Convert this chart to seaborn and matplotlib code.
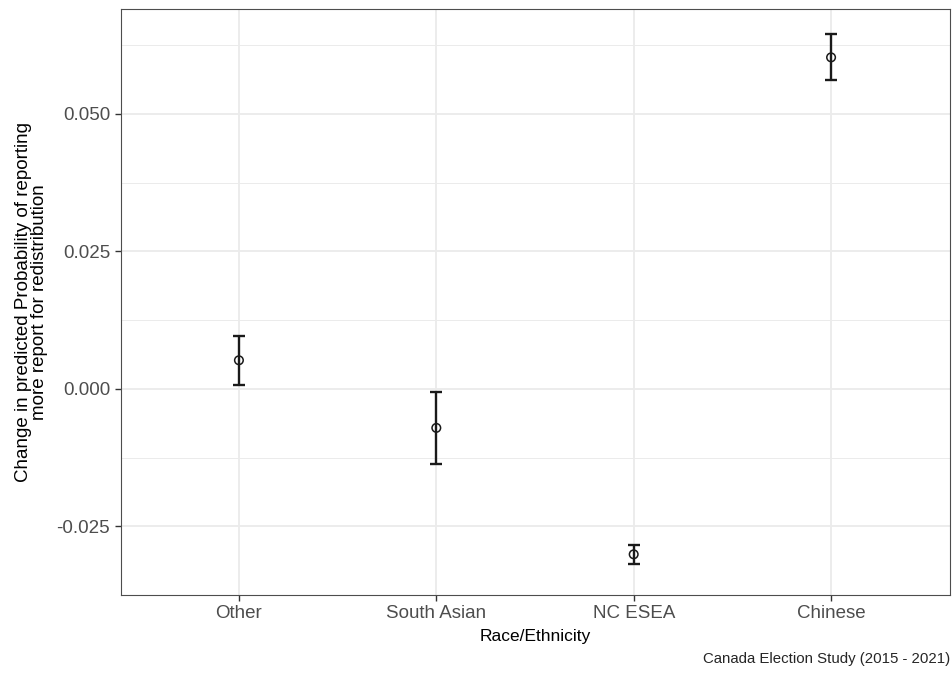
import pandas as pd
import seaborn as sns
import matplotlib.pyplot as plt

groups = ['Other', 'South Asian', 'NC ESEA', 'Chinese']
estimate = [0.0052, -0.0071, -0.0301, 0.0603]
lower = [0.0007, -0.0136, -0.0318, 0.0561]
upper = [0.0097, -0.0005, -0.0284, 0.0645]

df = pd.DataFrame({'group': groups, 'est': estimate, 'lo': lower, 'hi': upper})

sns.set_style('white')
plt.rcParams['font.family'] = ['Liberation Sans', 'DejaVu Sans']

fig = plt.figure(figsize=(9.52, 6.74), dpi=100)
# panel edges (pixels 120..950, 9..595)
ax = fig.add_axes([120.5 / 952, 1 - 595 / 674, 829 / 952, 586 / 674])

ax.errorbar(df['group'], df['est'],
            yerr=[df['est'] - df['lo'], df['hi'] - df['est']],
            fmt='none', ecolor='#1a1a1a', elinewidth=1.7, capsize=4.5, capthick=1.7, zorder=3)
sns.scatterplot(data=df, x='group', y='est', ax=ax, s=38, facecolor='none',
                edgecolor='#1a1a1a', linewidth=1.1, zorder=4)

ax.set_xlim(-0.6, 3.6)
ax.set_ylim(-0.0363, 0.0691)
ax.set_yticks([-0.025, 0.0, 0.025, 0.05])
ax.set_yticklabels(['-0.025', '0.000', '0.025', '0.050'])
ax.set_yticks([-0.0375, -0.0125, 0.0125, 0.0375, 0.0625], minor=True)

ax.grid(which='major', color='#EBEBEB', linewidth=1.3)
ax.grid(which='minor', axis='y', color='#EBEBEB', linewidth=0.7)
ax.set_axisbelow(True)
for s in ax.spines.values():
    s.set_color('#4D4D4D')
    s.set_linewidth(0.8)

ax.tick_params(axis='both', which='major', colors='#333333', labelcolor='#4D4D4D',
               labelsize=13.5, length=4, width=1, direction='out',
               bottom=True, left=True)
ax.tick_params(axis='y', which='minor', length=0)

ax.set_xlabel('Race/Ethnicity', fontsize=12.5, color='black', labelpad=5)
ax.set_ylabel('Change in predicted Probability of reporting\nmore report for redistribution',
              fontsize=13.5, color='black', labelpad=6, linespacing=0.95)

fig.text(0.998, 0.012, 'Canada Election Study (2015 - 2021)', ha='right', va='bottom', fontsize=10.8)

plt.savefig('out.png', dpi=100)
